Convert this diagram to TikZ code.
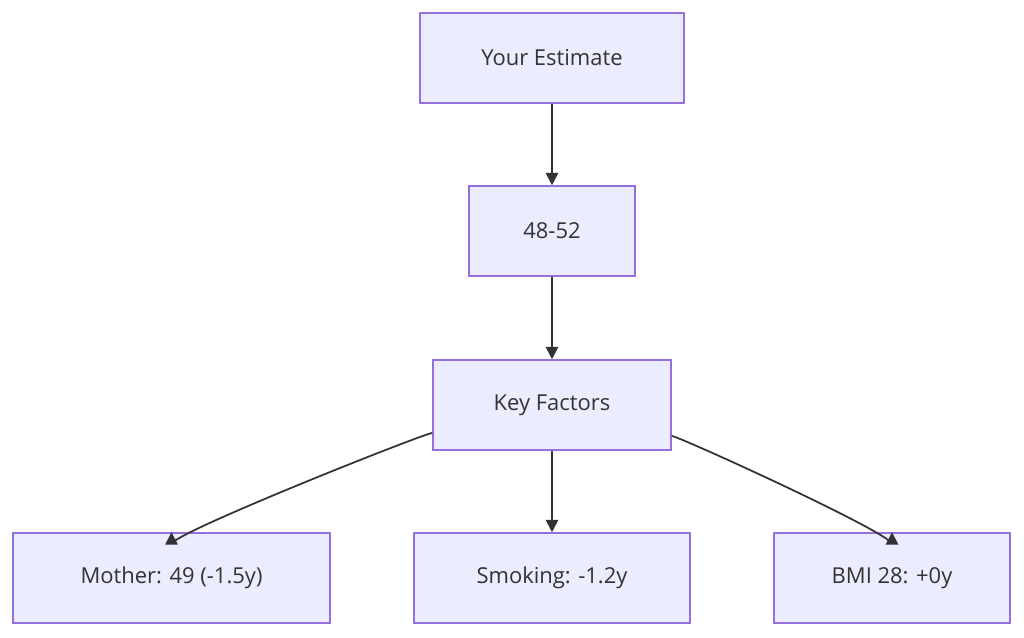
\documentclass[tikz,border=0pt]{standalone}
\usepackage{fontspec}
\setmainfont{Open Sans}
\usetikzlibrary{positioning, arrows.meta}
\definecolor{boxfill}{HTML}{ECECFF}
\definecolor{boxline}{HTML}{9370DB}
\definecolor{ink}{HTML}{333333}
\tikzstyle{factor} = [rectangle, minimum height=1.8cm, text centered, draw=boxline, fill=boxfill, line width=0.9pt, text=ink, font=\fontsize{12.5}{15}\selectfont]
\tikzstyle{arrow} = [line width=1pt, draw=ink, -{Triangle[length=7pt,width=7pt]}]

\begin{document}
\begin{tikzpicture}[x=0.02cm, y=-0.02cm]
            \useasboundingbox (0,0) rectangle (1024,637);
            \node (estimate) [factor, minimum width=5.28cm] at (552,58) {Your Estimate};
            \node (range) [factor, minimum width=3.32cm] at (552,231) {48-52};
            \node (factors) [factor, minimum width=4.76cm] at (552,405) {Key Factors};
            \node (mother) [factor, minimum width=6.34cm] at (171.5,578) {Mother: 49 (-1.5y)};
            \node (smoking) [factor, minimum width=5.52cm] at (552,578) {Smoking: -1.2y};
            \node (bmi) [factor, minimum width=4.72cm] at (892,578) {BMI 28: +0y};

            \draw [arrow] (estimate) -- (range);
            \draw [arrow] (range) -- (factors);
            \draw [arrow] (factors) -- (smoking);
            \draw [arrow] ([yshift=-0.56cm]factors.west) .. controls +(-4.2,-1.1) and +(0,1.2) .. (mother.north);
            \draw [arrow] ([yshift=-0.62cm]factors.east) .. controls +(4.2,-1.0) and +(0,1.2) .. (bmi.north);
\end{tikzpicture}
\end{document}
